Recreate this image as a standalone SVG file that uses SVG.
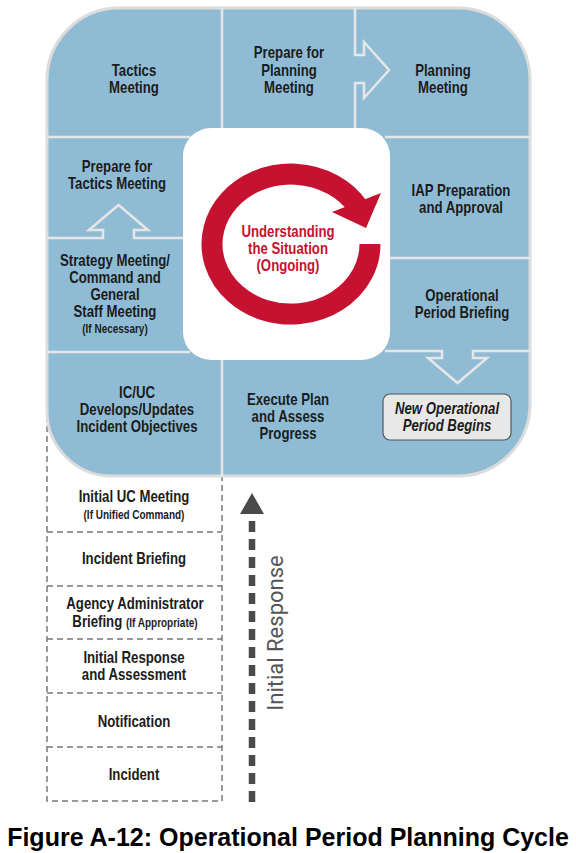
<svg xmlns="http://www.w3.org/2000/svg" width="576" height="853" viewBox="0 0 576 853">
<style>
.t{font-family:"Liberation Sans",Arial,sans-serif;font-weight:bold;font-size:16.5px;fill:#1c1c1c;text-anchor:middle}
.s{font-size:12.5px}
.red{fill:#c41230}
.it{font-style:italic}
.grid{fill:none;stroke:#e6e6e6;stroke-width:2.5}
.dash{fill:none;stroke:#7a7a7a;stroke-width:1.5;stroke-dasharray:6 4}
</style>
<rect width="576" height="853" fill="#ffffff"/>
<g id="initial-column">
<rect x="47" y="380" width="175" height="421" fill="#e9e9e9" class="dash"/>
<path class="dash" d="M47,532H222M47,586H222M47,639H222M47,693H222M47,747H222"/>
</g>
<path id="blue-area" d="M47,80 A72,72 0 0 1 119,8 L458,8 A72,72 0 0 1 530,80 L530,404 A72,72 0 0 1 458,476 L112,476 A65,65 0 0 1 47,411 Z" fill="#8fbcd4" stroke="#dcdcdc" stroke-width="3"/>
<g id="connectors">
<path class="grid" d="M222,8V128M355,8V55H364V42L389,70L364,98V83H355V128"/>
<path class="grid" d="M47,137H190M385,137H530"/>
<path class="grid" d="M47,238H103V230H89L118.5,205L148,230H134V238H190"/>
<path class="grid" d="M47,352H190M222,358V476"/>
<path class="grid" d="M385,258H530"/>
<path class="grid" d="M385,351H442V358H428L457.5,383L487,358H473V351H530"/>
<line x1="252" y1="802" x2="252" y2="513" stroke="#4a4a4a" stroke-width="6.5" stroke-dasharray="11 7"/>
<polygon points="240,514 252,493 264,514" fill="#4a4a4a"/>
</g>
<g id="center">
<rect x="183" y="128" width="207" height="232" rx="28" fill="#ffffff"/>
<path d="M370,244 A79,70 0 1 1 358,207" fill="none" stroke="#c41230" stroke-width="21"/>
<polygon points="332,212 381,193 366,228" fill="#c41230"/>
<text class="t red" transform="matrix(0.8 0 0 1 57.6 0)"><tspan x="288" y="237">Understanding</tspan><tspan x="288" y="254">the Situation</tspan><tspan x="288" y="271">(Ongoing)</tspan></text>
</g>
<g id="tactics"><text class="t" transform="matrix(0.8 0 0 1 26.8 0)"><tspan x="134" y="76">Tactics</tspan><tspan x="134" y="93">Meeting</tspan></text></g>
<g id="prepare-planning"><text class="t" transform="matrix(0.8 0 0 1 57.8 0)"><tspan x="289" y="58">Prepare for</tspan><tspan x="289" y="76">Planning</tspan><tspan x="289" y="93">Meeting</tspan></text></g>
<g id="planning"><text class="t" transform="matrix(0.8 0 0 1 88.6 0)"><tspan x="443" y="76">Planning</tspan><tspan x="443" y="93">Meeting</tspan></text></g>
<g id="prepare-tactics"><text class="t" transform="matrix(0.8 0 0 1 23.4 0)"><tspan x="117" y="172">Prepare for</tspan><tspan x="117" y="189">Tactics Meeting</tspan></text></g>
<g id="strategy"><text class="t" transform="matrix(0.8 0 0 1 23 0)"><tspan x="115" y="266">Strategy Meeting/</tspan><tspan x="115" y="283">Command and</tspan><tspan x="115" y="300">General</tspan><tspan x="115" y="317">Staff Meeting</tspan><tspan x="115" y="333" class="s">(If Necessary)</tspan></text></g>
<g id="iap"><text class="t" transform="matrix(0.8 0 0 1 92.2 0)"><tspan x="461" y="196">IAP Preparation</tspan><tspan x="461" y="213">and Approval</tspan></text></g>
<g id="op-briefing"><text class="t" transform="matrix(0.8 0 0 1 92.4 0)"><tspan x="462" y="301">Operational</tspan><tspan x="462" y="318">Period Briefing</tspan></text></g>
<g id="icuc"><text class="t" transform="matrix(0.8 0 0 1 27.4 0)"><tspan x="137" y="398">IC/UC</tspan><tspan x="137" y="415">Develops/Updates</tspan><tspan x="137" y="432">Incident Objectives</tspan></text></g>
<g id="execute"><text class="t" transform="matrix(0.8 0 0 1 57.6 0)"><tspan x="288" y="405">Execute Plan</tspan><tspan x="288" y="422">and Assess</tspan><tspan x="288" y="439">Progress</tspan></text></g>
<g id="new-period">
<rect x="383" y="394" width="128" height="46" rx="7" fill="#e8e8e8" stroke="#555555" stroke-width="1.2"/>
<text class="t it" transform="matrix(0.8 0 0 1 89.4 0)"><tspan x="447" y="414">New Operational</tspan><tspan x="447" y="431">Period Begins</tspan></text>
</g>
<g id="initial-uc"><text class="t" transform="matrix(0.8 0 0 1 26.8 0)"><tspan x="134" y="502">Initial UC Meeting</tspan><tspan x="134" y="519" class="s">(If Unified Command)</tspan></text></g>
<g id="incident-briefing"><text class="t" transform="matrix(0.8 0 0 1 26.8 0)" x="134" y="564">Incident Briefing</text></g>
<g id="agency"><text class="t" transform="matrix(0.8 0 0 1 27 0)"><tspan x="135" y="609">Agency Administrator</tspan><tspan x="135" y="627">Briefing <tspan class="s">(If Appropriate)</tspan></tspan></text></g>
<g id="initial-response"><text class="t" transform="matrix(0.8 0 0 1 26.8 0)"><tspan x="134" y="663">Initial Response</tspan><tspan x="134" y="680">and Assessment</tspan></text></g>
<g id="notification"><text class="t" transform="matrix(0.8 0 0 1 26.8 0)" x="134" y="727">Notification</text></g>
<g id="incident"><text class="t" transform="matrix(0.8 0 0 1 26.8 0)" x="134" y="780">Incident</text></g>
<text x="283" y="633" transform="rotate(-90 283 633)" text-anchor="middle" font-family="Roboto,'Liberation Sans',sans-serif" font-size="22" fill="#555555">Initial Response</text>
<text x="288" y="846" text-anchor="middle" font-family="'Liberation Sans',Arial,sans-serif" font-weight="bold" font-size="25" fill="#000000">Figure A-12: Operational Period Planning Cycle</text>
</svg>
